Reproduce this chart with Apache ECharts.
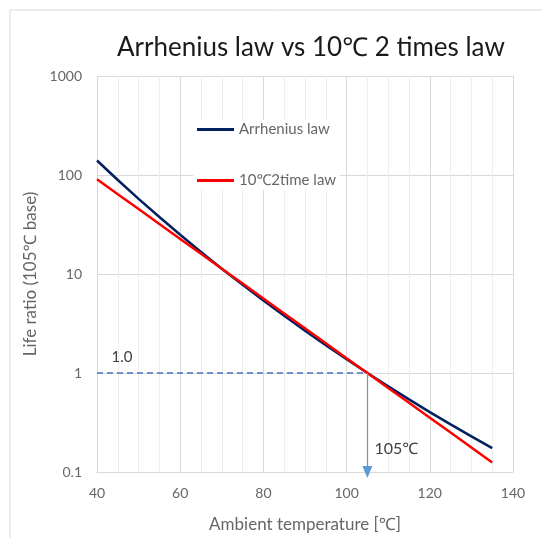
<!DOCTYPE html>
<html><head><meta charset="utf-8">
<script src="https://cdn.jsdelivr.net/npm/echarts@6/dist/echarts.min.js"></script>
<style>html,body{margin:0;padding:0;background:#fff}#c{width:542px;height:538px}</style>
</head><body><div id="c"></div>
<script>
const temps = [40,45,50,55,60,65,70,75,80,85,90,95,100,105,110,115,120,125,130,135];
const arrhenius = [140,89,57.4,37.6,24.9,16.7,11.3,7.78,5.39,3.78,2.67,1.91,1.38,1,0.733,0.542,0.403,0.303,0.229,0.174];
const twoTimes = [90.5,64,45.3,32,22.6,16,11.3,8,5.66,4,2.83,2,1.41,1,0.707,0.5,0.354,0.25,0.177,0.125];
const refLine = [[40,1],[105,1]];
const refTemp = 105;
const xTicks = [40,60,80,100,120,140];
const yTicks = [0.1,1,10,100,1000];
const FONT = 'Lato, "Noto Sans", sans-serif';

const chart = echarts.init(document.getElementById('c'));
chart.setOption({
  animation:false,
  backgroundColor:'#fff',
  title:{text:'Arrhenius law vs 10\u2103 2 times law', left:112, top:30,
    textStyle:{fontFamily:FONT,fontSize:26,fontWeight:'normal',color:'#1a1a1a'}},
  graphic:[{type:'rect',shape:{x:10,y:10,width:700,height:700},style:{fill:'none',stroke:'#d9d9d9',lineWidth:1},silent:true,z:-1}],
  legend:{data:['Arrhenius law','10\u21032time law'], orient:'vertical', left:193, top:120,
    itemWidth:37, itemHeight:3, itemGap:36, icon:'rect', backgroundColor:'#fff', padding:[2,4,2,4],
    textStyle:{fontFamily:FONT,fontSize:15,color:'#666666'}},
  grid:{left:97,right:29,top:76,bottom:66},
  xAxis:{type:'value',min:40,max:140,interval:20,
    name:'Ambient temperature [\u2103]',nameLocation:'middle',nameGap:44,
    nameTextStyle:{fontFamily:FONT,fontSize:17,color:'#666666'},
    axisLine:{show:true,lineStyle:{color:'#d9d9d9'}},axisTick:{show:false},
    axisLabel:{fontFamily:FONT,fontSize:14,color:'#666666',margin:14},
    splitLine:{show:true,lineStyle:{color:'#d9d9d9'}},
    minorTick:{show:false,splitNumber:4},
    minorSplitLine:{show:true,lineStyle:{color:'#eeeeee'}}},
  yAxis:{type:'log',logBase:10,min:0.1,max:1000,
    name:'Life ratio (105\u2103 base)',nameLocation:'middle',nameGap:57,
    nameTextStyle:{fontFamily:FONT,fontSize:17,color:'#666666'},
    axisLine:{show:false},axisTick:{show:false},
    axisLabel:{fontFamily:FONT,fontSize:14,color:'#666666',margin:15,
      formatter:v=>{const t=yTicks.find(k=>Math.abs(k-v)/k<1e-6);return t===undefined?'':String(t);}},
    splitLine:{show:true,lineStyle:{color:'#d9d9d9'}},
    minorSplitLine:{show:false}},
  series:[
    {name:'Arrhenius law',type:'line',data:temps.map((t,i)=>[t,arrhenius[i]]),showSymbol:false,
      lineStyle:{color:'#002060',width:2.5},itemStyle:{color:'#002060'},z:3},
    {name:'10\u21032time law',type:'line',data:temps.map((t,i)=>[t,twoTimes[i]]),showSymbol:false,
      lineStyle:{color:'#ff0000',width:2.5},itemStyle:{color:'#ff0000'},z:4},
    {name:'ref',type:'line',data:refLine,showSymbol:false,
      lineStyle:{color:'#4472c4',width:1.5,type:[6,4]},z:2,
      markPoint:{symbol:'circle',symbolSize:0,silent:true,
        data:[{coord:[46,1],value:'1.0',label:{show:true,formatter:'1.0',position:'top',distance:8,
          fontFamily:FONT,fontSize:15,color:'#404040'}},
          {coord:[refTemp,0.17],value:'105',label:{show:true,formatter:'105\u2103',position:'right',distance:7,
          fontFamily:FONT,fontSize:16,color:'#404040'}}]},
      markLine:{silent:true,symbol:['none','triangle'],symbolSize:[10,12],
        lineStyle:{color:'#5b9bd5',width:1.2,type:'solid'},label:{show:false},
        data:[[{coord:[refTemp,1]},{coord:[refTemp,0.1]}]]}}
  ]
});
</script></body></html>
